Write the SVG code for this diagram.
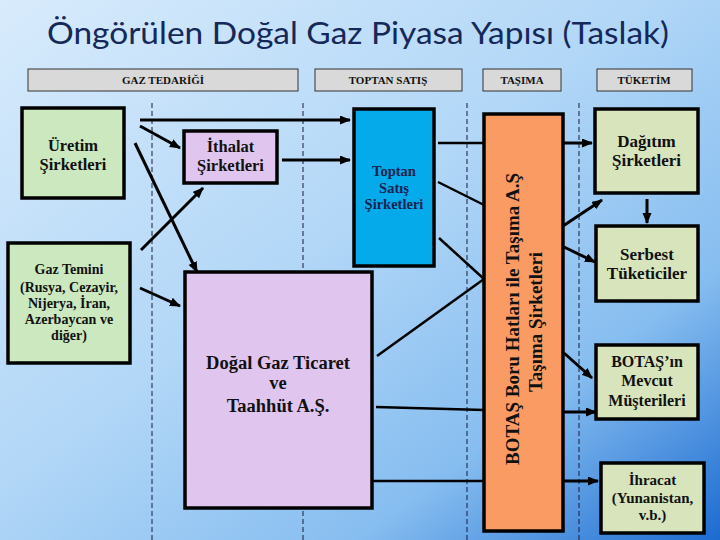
<svg xmlns="http://www.w3.org/2000/svg" width="720" height="540" viewBox="0 0 720 540">
<defs>
<linearGradient id="bg" x1="0" y1="0" x2="1" y2="1">
<stop offset="0" stop-color="#d8ebfc"/>
<stop offset="0.45" stop-color="#b2d7f7"/>
<stop offset="0.75" stop-color="#86bdf0"/>
<stop offset="1" stop-color="#1c6bd0"/>
</linearGradient>
<marker id="ah" markerUnits="userSpaceOnUse" markerWidth="12" markerHeight="10" refX="10" refY="4.5" orient="auto">
<path d="M0,0 L11,4.5 L0,9 z" fill="#000"/>
</marker>
</defs>
<style>
.hdr{fill:#d9d9d9;stroke:#333;stroke-width:1}
.ht{font-family:"Liberation Serif",serif;font-weight:bold;font-size:11px;fill:#111;text-anchor:middle}
.box{stroke:#000;stroke-width:3.5}
.green{fill:#cbe8bf}
.lilac{fill:#e0c6ef}
.blue{fill:#04aaea}
.orange{fill:#f99b63}
.yg{fill:#d8e5bc}
.t{font-family:"Liberation Serif",serif;font-weight:bold;fill:#111;text-anchor:middle}
.dash{stroke:#1a1a3a;stroke-width:1;stroke-dasharray:5,3;fill:none}
.ar{stroke:#000;stroke-width:3;fill:none;marker-end:url(#ah)}
.ln{stroke:#000;stroke-width:2.5;fill:none}
</style>
<rect width="720" height="540" fill="url(#bg)"/>
<text x="358" y="44" font-family="Lato,'Open Sans',sans-serif" font-size="31" fill="#15285a" text-anchor="middle" textLength="622" lengthAdjust="spacingAndGlyphs">Öngörülen Doğal Gaz Piyasa Yapısı (Taslak)</text>

<g id="headers">
<rect class="hdr" x="28" y="69" width="270" height="22"/>
<text class="ht" x="163" y="84">GAZ TEDARİĞİ</text>
<rect class="hdr" x="315" y="69" width="147" height="22"/>
<text class="ht" x="388" y="84">TOPTAN SATIŞ</text>
<rect class="hdr" x="483" y="69" width="78" height="22"/>
<text class="ht" x="522" y="84">TAŞIMA</text>
<rect class="hdr" x="597" y="69" width="95" height="22"/>
<text class="ht" x="644" y="84">TÜKETİM</text>
</g>

<g id="dashes">
<line class="dash" x1="152" y1="103" x2="152" y2="540"/>
<line class="dash" x1="303" y1="103" x2="303" y2="540"/>
<line class="dash" x1="467" y1="103" x2="467" y2="540"/>
<line class="dash" x1="579" y1="103" x2="579" y2="540"/>
</g>

<g id="uretim">
<rect class="box green" x="22" y="108" width="102" height="90"/>
<text class="t" font-size="16.5"><tspan x="73" y="151">Üretim</tspan><tspan x="73" y="170">Şirketleri</tspan></text>
</g>
<g id="gaztemini">
<rect class="box green" x="8" y="243" width="122" height="120"/>
<text class="t" font-size="14"><tspan x="69" y="274">Gaz Temini</tspan><tspan x="69" y="292">(Rusya, Cezayir,</tspan><tspan x="69" y="308">Nijerya, İran,</tspan><tspan x="69" y="324">Azerbaycan ve</tspan><tspan x="69" y="340">diğer)</tspan></text>
</g>
<g id="ithalat">
<rect class="box lilac" x="184" y="131" width="93" height="52"/>
<text class="t" font-size="16.5"><tspan x="230.5" y="152">İthalat</tspan><tspan x="230.5" y="171">Şirketleri</tspan></text>
</g>
<g id="dogalgaz">
<rect class="box lilac" x="185" y="272" width="187" height="236"/>
<text class="t" font-size="18.5"><tspan x="278" y="369">Doğal Gaz Ticaret</tspan><tspan x="278" y="389">ve</tspan><tspan x="278" y="412">Taahhüt A.Ş.</tspan></text>
</g>
<g id="toptan">
<rect class="box blue" x="354" y="109" width="80" height="157"/>
<text class="t" font-size="14.5" style="fill:#1a2350"><tspan x="394" y="176">Toptan</tspan><tspan x="394" y="193">Satış</tspan><tspan x="394" y="209">Şirketleri</tspan></text>
</g>
<g id="botas">
<rect class="box orange" x="484" y="114" width="79" height="417"/>
<text class="t" font-size="19" transform="translate(519,319) rotate(-90)" x="0" y="0">BOTAŞ Boru Hatları ile Taşıma A.Ş</text>
<text class="t" font-size="19" transform="translate(542,322) rotate(-90)" x="0" y="0">Taşıma Şirketleri</text>
</g>
<g id="dagitim">
<rect class="box yg" x="595" y="109" width="103" height="84"/>
<text class="t" font-size="17"><tspan x="646.5" y="147">Dağıtım</tspan><tspan x="646.5" y="166">Şirketleri</tspan></text>
</g>
<g id="serbest">
<rect class="box yg" x="596" y="226" width="102" height="75"/>
<text class="t" font-size="17"><tspan x="647" y="260">Serbest</tspan><tspan x="647" y="279">Tüketiciler</tspan></text>
</g>
<g id="mevcut">
<rect class="box yg" x="596" y="345" width="102" height="74"/>
<text class="t" font-size="16"><tspan x="647" y="367">BOTAŞ’ın</tspan><tspan x="647" y="386">Mevcut</tspan><tspan x="647" y="406">Müşterileri</tspan></text>
</g>
<g id="ihracat">
<rect class="box yg" x="601" y="463" width="103" height="70"/>
<text class="t" font-size="15"><tspan x="652.5" y="485">İhracat</tspan><tspan x="652.5" y="503">(Yunanistan,</tspan><tspan x="652.5" y="520">v.b.)</tspan></text>
</g>

<g id="connectors">
<line class="ar" x1="140" y1="120" x2="350" y2="120"/>
<line class="ar" x1="140" y1="126" x2="180" y2="148"/>
<line class="ar" x1="135" y1="143" x2="197" y2="272"/>
<line class="ar" x1="141" y1="250" x2="203" y2="188"/>
<line class="ar" x1="140" y1="288" x2="180" y2="306"/>
<line class="ar" x1="282" y1="160" x2="350" y2="160"/>
<line class="ln" x1="438" y1="143" x2="484" y2="143"/>
<line class="ln" x1="438" y1="182" x2="484" y2="205"/>
<line class="ln" x1="439" y1="238" x2="484" y2="279"/>
<line class="ln" x1="377" y1="356" x2="484" y2="279"/>
<line class="ln" x1="376" y1="407" x2="484" y2="410"/>
<line class="ln" x1="372" y1="481" x2="484" y2="481"/>
<line class="ar" x1="563" y1="143" x2="592" y2="143"/>
<line class="ar" x1="563" y1="226" x2="602" y2="200"/>
<line class="ar" x1="564" y1="247" x2="595" y2="262"/>
<line class="ar" x1="564" y1="353" x2="592" y2="378"/>
<line class="ar" x1="564" y1="412" x2="596" y2="412"/>
<line class="ar" x1="564" y1="481" x2="598" y2="481"/>
<line class="ar" x1="647" y1="199" x2="647" y2="223"/>
</g>
</svg>
